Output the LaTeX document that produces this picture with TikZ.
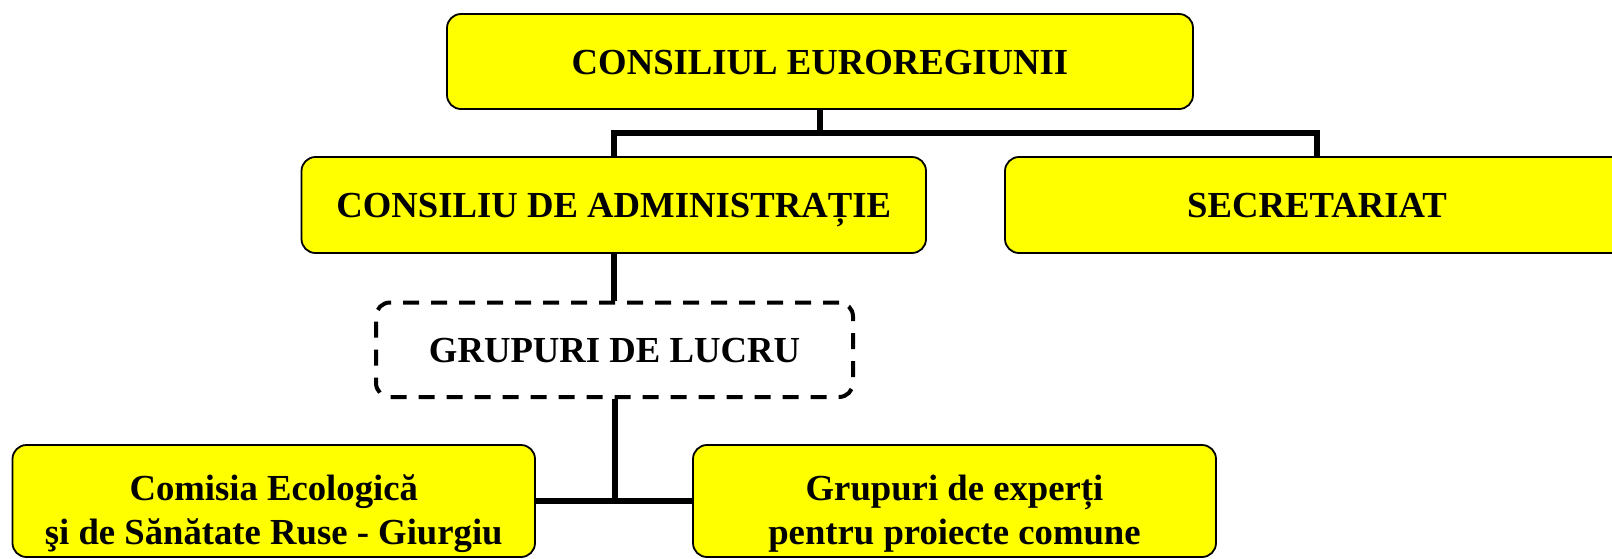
\documentclass[tikz,border=0pt]{standalone}
\usepackage{fontspec}
\setmainfont{Liberation Serif}
\definecolor{boxyellow}{RGB}{255,255,0}
\begin{document}
\begin{tikzpicture}[x=1pt,y=-1pt,
  box/.style={draw=black, line width=1.8pt, fill=boxyellow, rounded corners=14pt, inner sep=0pt},
  dbox/.style={draw=black, line width=4pt, dash pattern=on 16pt off 12pt, rounded corners=14pt, inner sep=0pt},
  title/.style={font=\bfseries\fontsize{36.7}{44}\selectfont, text height=25pt, text depth=0pt},
  multi/.style={font=\bfseries\fontsize{36.7}{44}\selectfont, align=center, inner sep=0pt},
  conn/.style={line width=6pt}]
\useasboundingbox (0,0) rectangle (1612,558);
% boxes
\node[box,title,minimum width=746pt,minimum height=95pt] (eu) at (820,61.5) {CONSILIUL EUROREGIUNII};
\node[box,title,minimum width=624.5pt,minimum height=96pt] (ca) at (613.75,205) {CONSILIU DE ADMINISTRAȚIE};
\node[box,title,minimum width=624pt,minimum height=96pt] (sec) at (1317,205) {SECRETARIAT};
\node[dbox,title,minimum width=477pt,minimum height=94.5pt] (gl) at (614.5,349.75) {GRUPURI DE LUCRU};
\node[box,minimum width=522.5pt,minimum height=112pt] (ce) at (273.75,501) {};
\node[box,minimum width=523pt,minimum height=112pt] (ge) at (954.5,501) {};
\node[multi] (cet) at (273.75,514) {Comisia Ecologică\\şi de Sănătate Ruse - Giurgiu};
\node[multi] (get) at (954.5,514) {Grupuri de experți\\pentru proiecte comune};
% connectors
\coordinate (j1) at (820,133);
\draw[conn] (eu.south) -- (j1);
\draw[conn] (ca.north) |- (j1) -| (sec.north);
\draw[conn] (ca.south) -- (ca.south |- gl.north);
\coordinate (j2) at (gl.south |- ce.east);
\draw[conn] (gl.south) -- (j2);
\draw[conn] (ce.east) -- (ge.west);
\end{tikzpicture}
\end{document}
